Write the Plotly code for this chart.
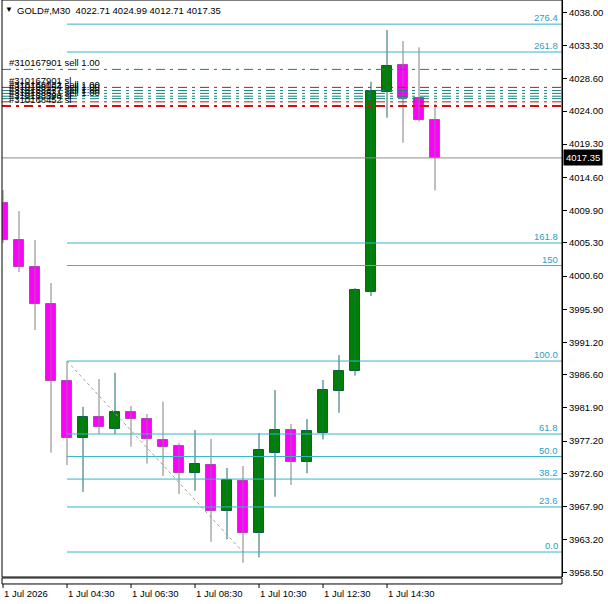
import plotly.graph_objects as go

# ---------------- data ----------------
idx = list(range(28))
opens = [4010.96, 4005.71, 4001.88, 3996.64, 3985.72, 3977.60, 3980.57, 3978.96,
         3981.28, 3980.29, 3977.35, 3976.50, 3972.63, 3973.77, 3967.24, 3971.50,
         3964.12, 3975.55, 3978.77, 3974.28, 3978.39, 3984.34, 3987.14, 3998.30,
         4026.74, 4030.52, 4025.80, 4022.71]
highs = [4012.80, 4009.80, 4005.70, 3999.60, 3988.55, 3982.07, 3986.00, 3986.90,
         3982.17, 3981.04, 3982.80, 3976.90, 3978.77, 3977.50, 3973.38, 3973.67,
         3978.35, 3984.44, 3979.62, 3980.33, 3985.86, 3989.40, 3998.90, 4028.15,
         4035.48, 4033.92, 4033.03, 4024.99]
lows = [4005.30, 4001.17, 3992.95, 3975.55, 3973.80, 3970.00, 3978.20, 3978.20,
        3976.40, 3974.00, 3972.25, 3969.70, 3970.17, 3962.93, 3963.27, 3959.96,
        3960.72, 3969.31, 3970.97, 3972.63, 3977.45, 3981.22, 3986.50, 3997.77,
        4023.05, 4019.50, 4022.48, 4012.71]
closes = [4005.71, 4001.88, 3996.64, 3985.72, 3977.60, 3980.57, 3979.15, 3981.28,
          3980.29, 3977.45, 3976.40, 3972.63, 3973.95, 3967.24, 3971.68, 3964.12,
          3975.93, 3978.77, 3974.28, 3978.63, 3984.44, 3987.14, 3998.60, 4026.84,
          4030.38, 4025.80, 4022.71, 4017.35]

y_tickvals = [4038.00, 4033.30, 4028.60, 4024.00, 4019.30, 4014.60, 4009.90, 4005.30,
              4000.60, 3995.90, 3991.20, 3986.60, 3981.90, 3977.20, 3972.60, 3967.90,
              3963.20, 3958.50]
x_tick_idx = [0, 4, 8, 12, 16, 20, 24]
x_tick_text = ["1 Jul 2026", "1 Jul 04:30", "1 Jul 06:30", "1 Jul 08:30",
               "1 Jul 10:30", "1 Jul 12:30", "1 Jul 14:30"]

fib_start_idx = 4
fib_end_idx = 15
fib_high = 3988.55
fib_low = 3961.47
fib_levels = [0.0, 23.6, 38.2, 50.0, 61.8, 100.0, 150.0, 161.8, 261.8, 276.4]
fib_labels = ["0.0", "23.6", "38.2", "50.0", "61.8", "100.0", "150", "161.8", "261.8", "276.4"]

order_prices = [4029.90, 4027.35, 4026.90, 4026.50, 4026.10, 4025.75, 4025.30, 4024.70]
order_kinds = ["open", "sl", "open", "open", "open", "open", "sl", "sl"]
order_labels = ["#310167901 sell 1.00", "#310167901 sl", "#310168032 sell 1.00",
                "#310168154 sell 1.00", "#310168277 sell 1.00", "#310168331 sell 1.00",
                "#310168398 sl", "#310168452 sl"]

current_price = 4017.35
header = "GOLD#,M30  4022.71 4024.99 4012.71 4017.35"

# ---------------- style ----------------
FONT = "Liberation Sans"
FS = 9.5
BULL_FILL, BULL_LINE, BULL_WICK = "#008000", "#0b5e4a", "#1d6b62"
BEAR_FILL, BEAR_LINE, BEAR_WICK = "#ff00ff", "#b545b5", "#808080"
FIB_COLOR = "#35b6c9"
FIB_TEXT = "#2aa0c4"
TEAL = "#17807a"
RED = "#d01010"

x_min, x_max = -0.0625, 34.9375
y_min, y_max = 3957.93, 4039.74

fig = go.Figure()

# wicks
for bull, col in [(True, BULL_WICK), (False, BEAR_WICK)]:
    wx, wy = [], []
    for i, o, h, l, c in zip(idx, opens, highs, lows, closes):
        if (c >= o) == bull:
            wx += [i, i, None]
            wy += [l, h, None]
    fig.add_trace(go.Scatter(x=wx, y=wy, mode="lines", line=dict(color=col, width=1),
                             hoverinfo="skip", showlegend=False))

# fib lines
for lvl in fib_levels:
    p = fib_low + (fib_high - fib_low) * lvl / 100.0
    fig.add_trace(go.Scatter(x=[fib_start_idx, x_max], y=[p, p], mode="lines",
                             line=dict(color=FIB_COLOR, width=1), hoverinfo="skip",
                             showlegend=False))

# fib trend (diagonal)
fig.add_trace(go.Scatter(x=[fib_start_idx, fib_end_idx], y=[fib_high, fib_low], mode="lines",
                         line=dict(color="#a0a0a0", width=1, dash="3px,3px"),
                         hoverinfo="skip", showlegend=False))

# current price line
fig.add_trace(go.Scatter(x=[x_min, x_max], y=[current_price, current_price], mode="lines",
                         line=dict(color="#8c8c8c", width=1), hoverinfo="skip",
                         showlegend=False))

# order lines
for p, k in zip(order_prices, order_kinds):
    col = TEAL if k == "open" else RED
    w = 2 if p == order_prices[-1] else 1
    fig.add_trace(go.Scatter(x=[x_min, x_max], y=[p, p], mode="lines",
                             line=dict(color=col, width=w, dash="9px,5px,3px,5px"),
                             hoverinfo="skip", showlegend=False))

# bodies
for bull, fc, lc in [(True, BULL_FILL, BULL_LINE), (False, BEAR_FILL, BEAR_LINE)]:
    bx, bh, bb = [], [], []
    for i, o, c in zip(idx, opens, closes):
        if (c >= o) == bull:
            bx.append(i)
            bh.append(abs(c - o))
            bb.append(min(o, c))
    fig.add_trace(go.Bar(x=bx, y=bh, base=bb, width=0.6,
                         marker=dict(color=fc, line=dict(color=lc, width=1)),
                         hoverinfo="skip", showlegend=False))

annotations = []
# fib labels
for lvl, lab in zip(fib_levels, fib_labels):
    p = fib_low + (fib_high - fib_low) * lvl / 100.0
    annotations.append(dict(x=1, xref="paper", y=p, yref="y", text=lab, showarrow=False,
                            xanchor="right", yanchor="bottom", xshift=-2, yshift=-1,
                            font=dict(family=FONT, size=FS, color=FIB_TEXT)))
# order labels
for p, lab in zip(order_prices, order_labels):
    annotations.append(dict(x=0, xref="paper", y=p, yref="y", text=lab, showarrow=False,
                            xanchor="left", yanchor="bottom", xshift=5, yshift=-1,
                            font=dict(family=FONT, size=FS, color="#000000")))
# x tick labels
for i, t in zip(x_tick_idx, x_tick_text):
    annotations.append(dict(x=i, xref="x", y=-0.0150, yref="paper", text=t, showarrow=False,
                            xanchor="left", yanchor="top", xshift=-1,
                            font=dict(family=FONT, size=FS, color="#000000")))
# header
annotations.append(dict(x=0, xref="paper", y=1, yref="paper", text="\u25bc", showarrow=False,
                        xanchor="left", yanchor="top", xshift=1, yshift=-3,
                        font=dict(family=FONT, size=8, color="#000000")))
annotations.append(dict(x=0, xref="paper", y=1, yref="paper", text=header, showarrow=False,
                        xanchor="left", yanchor="top", xshift=13, yshift=-3,
                        font=dict(family=FONT, size=FS, color="#000000")))
# current price tag
annotations.append(dict(x=1, xref="paper", y=current_price, yref="y", text=f"{current_price:.2f}",
                        showarrow=False, xanchor="left", yanchor="middle", xshift=1,
                        bgcolor="#000000", borderpad=2,
                        font=dict(family=FONT, size=FS, color="#ffffff")))

shapes = []
# frame
shapes.append(dict(type="rect", xref="paper", yref="paper", x0=0, x1=1, y0=0, y1=1,
                   line=dict(color="#000000", width=1), layer="above"))
# lower strip box
shapes.append(dict(type="rect", xref="paper", yref="paper", x0=0, x1=1, y0=-0.0121, y1=-0.0017,
                   line=dict(color="#000000", width=1)))
# x ticks
for i in x_tick_idx:
    shapes.append(dict(type="line", xref="x", yref="paper", x0=i, x1=i, y0=-0.0121, y1=-0.019,
                       line=dict(color="#000000", width=1)))

fig.update_layout(
    width=608, height=604,
    margin=dict(l=2, r=46, t=0, b=27),
    paper_bgcolor="#ffffff", plot_bgcolor="#ffffff",
    barmode="overlay", bargap=0,
    showlegend=False,
    annotations=annotations,
    shapes=shapes,
    xaxis=dict(range=[x_min, x_max], showgrid=False, zeroline=False, showticklabels=False,
               ticks="", showline=False, fixedrange=True),
    yaxis=dict(range=[y_min, y_max], side="right", showgrid=False, zeroline=False,
               tickmode="array", tickvals=y_tickvals,
               ticktext=[f"{v:.2f}" for v in y_tickvals],
               ticks="outside", ticklen=4, tickcolor="#000000",
               showline=True, linecolor="#000000", linewidth=1,
               tickfont=dict(family=FONT, size=FS, color="#000000"), fixedrange=True),
)

fig.write_html("out.html")
